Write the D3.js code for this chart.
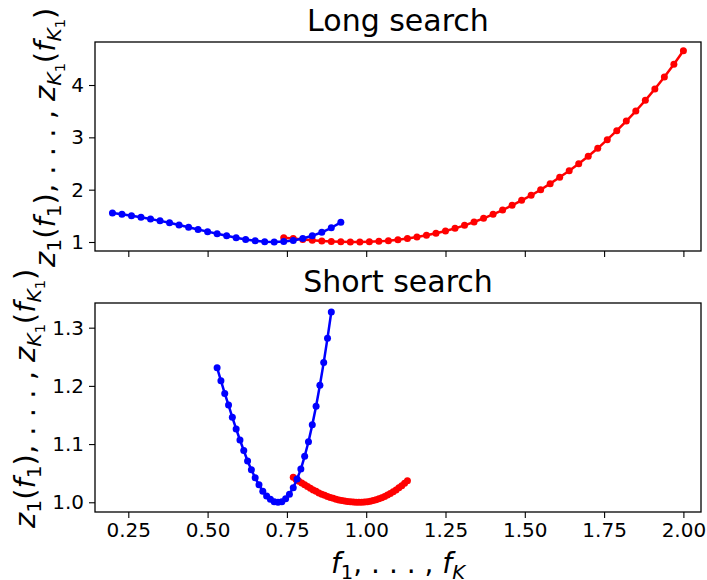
<!DOCTYPE html>
<html>
<head>
<meta charset="utf-8">
<script src="https://cdn.jsdelivr.net/npm/d3@7"></script>
<style>
body{margin:0;background:#fff}
svg{display:block;font-family:"DejaVu Sans",sans-serif}
</style>
</head>
<body>
<div id="chart"></div>
<script>
// data
const longBlueX = [0.20,0.23,0.26,0.29,0.32,0.35,0.38,0.41,0.44,0.47,0.50,0.53,0.56,0.59,0.62,0.65,0.68,0.71,0.74,0.77,0.80,0.83,0.86,0.89,0.92];
const longBlueY = [1.554,1.530,1.503,1.472,1.440,1.404,1.366,1.325,1.283,1.240,1.198,1.157,1.118,1.081,1.049,1.024,1.007,1.000,1.008,1.030,1.066,1.118,1.186,1.272,1.376];

const longRedX = [0.74,0.77,0.80,0.83,0.86,0.89,0.92,0.95,0.98,1.01,1.04,1.07,1.10,1.13,1.16,1.19,1.22,1.25,1.28,1.31,1.34,1.37,1.40,1.43,1.46,1.49,1.52,1.55,1.58,1.61,1.64,1.67,1.70,1.73,1.76,1.79,1.82,1.85,1.88,1.91,1.94,1.97,2.00];
const longRedY = [1.082,1.066,1.048,1.032,1.019,1.009,1.003,1.000,1.000,1.004,1.012,1.025,1.043,1.068,1.097,1.128,1.166,1.210,1.261,1.318,1.382,1.452,1.528,1.611,1.701,1.797,1.892,1.999,2.115,2.236,2.360,2.497,2.638,2.790,2.955,3.127,3.312,3.503,3.707,3.924,4.153,4.396,4.656];

const shortBlueX = [0.530,0.542,0.554,0.566,0.578,0.590,0.602,0.614,0.626,0.638,0.650,0.662,0.674,0.686,0.698,0.710,0.722,0.734,0.746,0.758,0.770,0.782,0.794,0.806,0.818,0.830,0.842,0.854,0.866,0.878,0.890];
const shortBlueY = [1.231,1.209,1.187,1.167,1.146,1.126,1.107,1.089,1.071,1.056,1.042,1.030,1.019,1.011,1.005,1.001,1.000,1.001,1.006,1.014,1.025,1.040,1.057,1.079,1.104,1.133,1.165,1.201,1.240,1.282,1.327];

const shortRedX = [0.770,0.779,0.788,0.797,0.806,0.815,0.824,0.833,0.842,0.851,0.860,0.869,0.878,0.887,0.896,0.905,0.914,0.923,0.932,0.941,0.950,0.959,0.968,0.977,0.986,0.995,1.004,1.013,1.022,1.031,1.040,1.049,1.058,1.067,1.076,1.085,1.094,1.103,1.112,1.121,1.130];
const shortRedY = [1.043,1.039,1.036,1.033,1.030,1.027,1.024,1.021,1.019,1.016,1.014,1.012,1.010,1.008,1.007,1.005,1.004,1.003,1.002,1.0015,1.001,1.0004,1.0001,1.000,1.0001,1.0004,1.0009,1.0018,1.0029,1.0043,1.0059,1.0078,1.010,1.0124,1.0151,1.0181,1.0213,1.0248,1.0286,1.0326,1.037];

const xTicks = [0.25,0.50,0.75,1.00,1.25,1.50,1.75,2.00];
const longYTicks = [1,2,3,4];
const shortYTicks = [1.0,1.1,1.2,1.3];

const width = 707, height = 580;
const margin = {left: 95, right: 6};
const panelH = 209;
const plotW = width - margin.left - margin.right;
const blue = "#0000ff", red = "#ff0000";

const svg = d3.select("#chart").append("svg")
    .attr("width", width)
    .attr("height", height);

const xScale = d3.scaleLinear().domain([0.145, 2.0555]).range([0, plotW]);

// label parts: [text, italic, level]
const yLabelParts = [
    ["z",1,0],["1",0,1],["(",0,0],["f",1,0],["1",0,1],["), . . . , ",0,0],
    ["z",1,0],["K",1,1],["1",0,2],["(",0,0],["f",1,0],["K",1,1],["1",0,2],[")",0,0]
];
const xLabelParts = [["f",1,0],["1",0,1],[", . . . , ",0,0],["f",1,0],["K",1,1]];

function mathText(sel, parts, size){
    let cur = 0;
    parts.forEach(([t, it, lvl]) => {
        const shift = [0, 0.22, 0.36][lvl] * size;
        sel.append("tspan")
            .attr("dy", shift - cur)
            .attr("font-size", size * [1, 0.7, 0.5][lvl])
            .attr("font-style", it ? "italic" : "normal")
            .text(t);
        cur = shift;
    });
}

function drawPanel(top, yDomain, yTicks, yFmt, title, series, showXLabels, labelX){
    const g = svg.append("g").attr("transform", "translate(" + margin.left + "," + top + ")");
    const yScale = d3.scaleLinear().domain(yDomain).range([panelH, 0]);

    const xAxis = d3.axisBottom(xScale).tickValues(xTicks).tickFormat(showXLabels ? d3.format(".2f") : "")
        .tickSizeInner(6).tickSizeOuter(0).tickPadding(5);
    const yAxis = d3.axisLeft(yScale).tickValues(yTicks).tickFormat(yFmt)
        .tickSizeInner(6).tickSizeOuter(0).tickPadding(5);

    g.append("g").attr("class", "xAxisG")
        .attr("transform", "translate(0," + panelH + ")")
        .call(xAxis);
    g.append("g").attr("class", "yAxisG").call(yAxis);

    g.selectAll(".tick line").attr("stroke", "#000").attr("stroke-width", 1.1);
    g.selectAll(".tick text").attr("font-size", 20).attr("font-family", "DejaVu Sans").attr("fill", "#000");
    g.selectAll(".domain").remove();

    const line = d3.line().x(d => xScale(d[0])).y(d => yScale(d[1]));

    series.forEach(s => {
        const pts = s.x.map((v, i) => [v, s.y[i]]);
        const sg = g.append("g");
        sg.append("path").datum(pts)
            .attr("d", line)
            .attr("fill", "none")
            .attr("stroke", s.color)
            .attr("stroke-width", 2.5)
            .attr("stroke-linejoin", "round");
        sg.selectAll("circle").data(pts).join("circle")
            .attr("cx", d => xScale(d[0]))
            .attr("cy", d => yScale(d[1]))
            .attr("r", 3.5)
            .attr("fill", s.color);
    });

    g.append("rect")
        .attr("width", plotW).attr("height", panelH)
        .attr("fill", "none").attr("stroke", "#000").attr("stroke-width", 1.3);

    g.append("text")
        .attr("x", plotW / 2).attr("y", -11)
        .attr("text-anchor", "middle")
        .attr("font-size", 30)
        .text(title);

    const yl = g.append("text")
        .attr("text-anchor", "start")
        .attr("transform", "translate(" + labelX + ",225) rotate(-90)");
    mathText(yl, yLabelParts, 29);
}

drawPanel(42, [0.828, 4.822], longYTicks, d3.format("d"), "Long search",
    [{x: longRedX, y: longRedY, color: red}, {x: longBlueX, y: longBlueY, color: blue}], false, -40);

drawPanel(303, [0.9833, 1.3424], shortYTicks, d3.format(".1f"), "Short search",
    [{x: shortRedX, y: shortRedY, color: red}, {x: shortBlueX, y: shortBlueY, color: blue}], true, -60);

const xl = svg.append("text")
    .attr("text-anchor", "middle")
    .attr("x", margin.left + plotW / 2)
    .attr("y", 573);
mathText(xl, xLabelParts, 28);
</script>
</body>
</html>
